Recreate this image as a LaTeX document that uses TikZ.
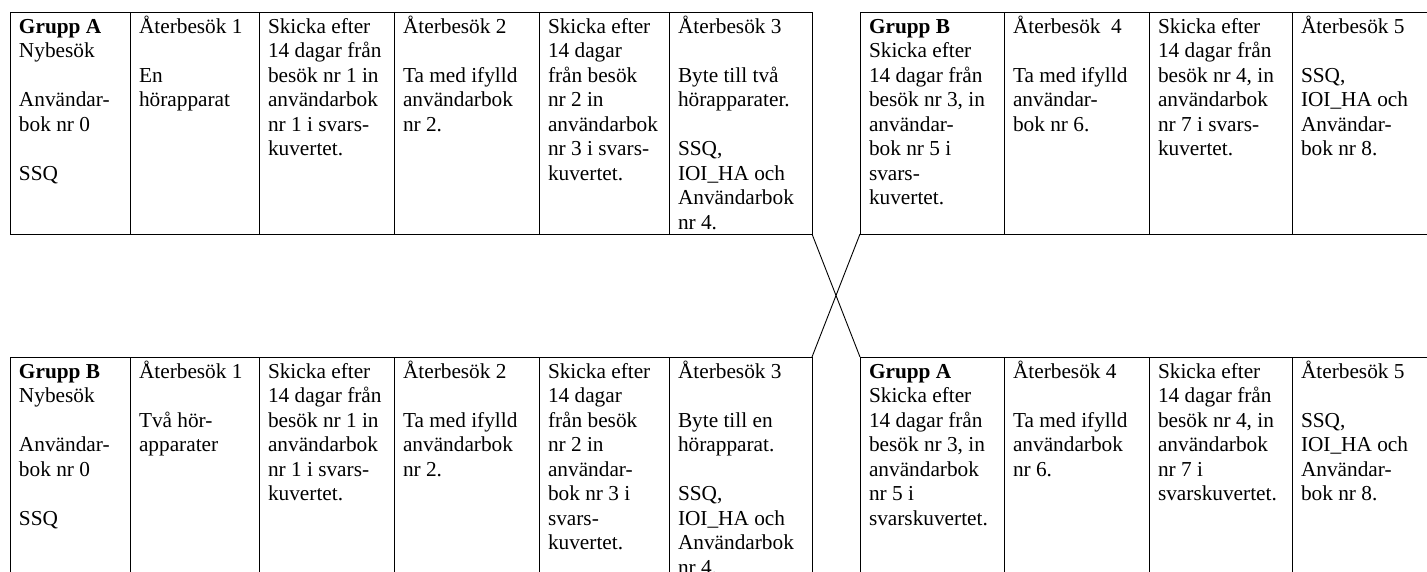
\documentclass[tikz,border=0pt]{standalone}
\usepackage{fontspec}
\setmainfont{Liberation Serif}
\newcommand\bl{\mbox{}}
\newcommand\mkcell[5]{\node[cell, minimum width={(#3-#2)*1pt}, minimum height={(#5-#4)*1pt}] (#1) at (#2,#4) {};}
\newcommand\mktext[2]{\node[txt] (#1t) at ([shift={(9,21)}]#1.north west) {\parbox[t]{200pt}{#2}};}
\begin{document}
\begin{tikzpicture}[x=1pt,y=-1pt,
  cell/.style={draw, line width=0.9pt, rectangle, inner sep=0pt, outer sep=0pt, anchor=north west},
  txt/.style={inner sep=0pt, outer sep=0pt, anchor=base west, font=\fontsize{21.3}{24.5}\selectfont},
  link/.style={line width=0.9pt}]
\useasboundingbox (0,0) rectangle (1427,571);
\clip (0,0) rectangle (1427,571);
% top left table
\mkcell{tL1}{10}{130}{12}{234}
\mkcell{tL2}{130}{259}{12}{234}
\mkcell{tL3}{259}{394}{12}{234}
\mkcell{tL4}{394}{539}{12}{234}
\mkcell{tL5}{539}{669}{12}{234}
\mkcell{tL6}{669}{812}{12}{234}
% top right table
\mkcell{tR1}{860}{1004}{12}{234}
\mkcell{tR2}{1004}{1149}{12}{234}
\mkcell{tR3}{1149}{1292}{12}{234}
\mkcell{tR4}{1292}{1440}{12}{234}
% bottom left table
\mkcell{bL1}{10}{130}{357}{600}
\mkcell{bL2}{130}{259}{357}{600}
\mkcell{bL3}{259}{394}{357}{600}
\mkcell{bL4}{394}{539}{357}{600}
\mkcell{bL5}{539}{669}{357}{600}
\mkcell{bL6}{669}{812}{357}{600}
% bottom right table
\mkcell{bR1}{860}{1004}{357}{600}
\mkcell{bR2}{1004}{1149}{357}{600}
\mkcell{bR3}{1149}{1292}{357}{600}
\mkcell{bR4}{1292}{1440}{357}{600}
% texts top left
\mktext{tL1}{\textbf{Grupp A}\\Nybesök\\\bl\\Användar-\\bok nr 0\\\bl\\SSQ}
\mktext{tL2}{Återbesök 1\\\bl\\En\\hörapparat}
\mktext{tL3}{Skicka efter\\14 dagar från\\besök nr 1 in\\användarbok\\nr 1 i svars-\\kuvertet.}
\mktext{tL4}{Återbesök 2\\\bl\\Ta med ifylld\\användarbok\\nr 2.}
\mktext{tL5}{Skicka efter\\14 dagar\\från besök\\nr 2 in\\användarbok\\nr 3 i svars-\\kuvertet.}
\mktext{tL6}{Återbesök 3\\\bl\\Byte till två\\hörapparater.\\\bl\\SSQ,\\IOI\_HA och\\Användarbok\\nr 4.}
% texts top right
\mktext{tR1}{\textbf{Grupp B}\\Skicka efter\\14 dagar från\\besök nr 3, in\\användar-\\bok nr 5 i\\svars-\\kuvertet.}
\mktext{tR2}{Återbesök\ \ 4\\\bl\\Ta med ifylld\\användar-\\bok nr 6.}
\mktext{tR3}{Skicka efter\\14 dagar från\\besök nr 4, in\\användarbok\\nr 7 i svars-\\kuvertet.}
\mktext{tR4}{Återbesök 5\\\bl\\SSQ,\\IOI\_HA och\\Användar-\\bok nr 8.}
% texts bottom left
\mktext{bL1}{\textbf{Grupp B}\\Nybesök\\\bl\\Användar-\\bok nr 0\\\bl\\SSQ}
\mktext{bL2}{Återbesök 1\\\bl\\Två hör-\\apparater}
\mktext{bL3}{Skicka efter\\14 dagar från\\besök nr 1 in\\användarbok\\nr 1 i svars-\\kuvertet.}
\mktext{bL4}{Återbesök 2\\\bl\\Ta med ifylld\\användarbok\\nr 2.}
\mktext{bL5}{Skicka efter\\14 dagar\\från besök\\nr 2 in\\användar-\\bok nr 3 i\\svars-\\kuvertet.}
\mktext{bL6}{Återbesök 3\\\bl\\Byte till en\\hörapparat.\\\bl\\SSQ,\\IOI\_HA och\\Användarbok\\nr 4.}
% texts bottom right
\mktext{bR1}{\textbf{Grupp A}\\Skicka efter\\14 dagar från\\besök nr 3, in\\användarbok\\nr 5 i\\svarskuvertet.}
\mktext{bR2}{Återbesök 4\\\bl\\Ta med ifylld\\användarbok\\nr 6.}
\mktext{bR3}{Skicka efter\\14 dagar från\\besök nr 4, in\\användarbok\\nr 7 i\\svarskuvertet.}
\mktext{bR4}{Återbesök 5\\\bl\\SSQ,\\IOI\_HA och\\Användar-\\bok nr 8.}
% crossing connectors
\draw[link] (tL6.south east) -- (bR1.north west);
\draw[link] (tR1.south west) -- (bL6.north east);
\end{tikzpicture}
\end{document}
